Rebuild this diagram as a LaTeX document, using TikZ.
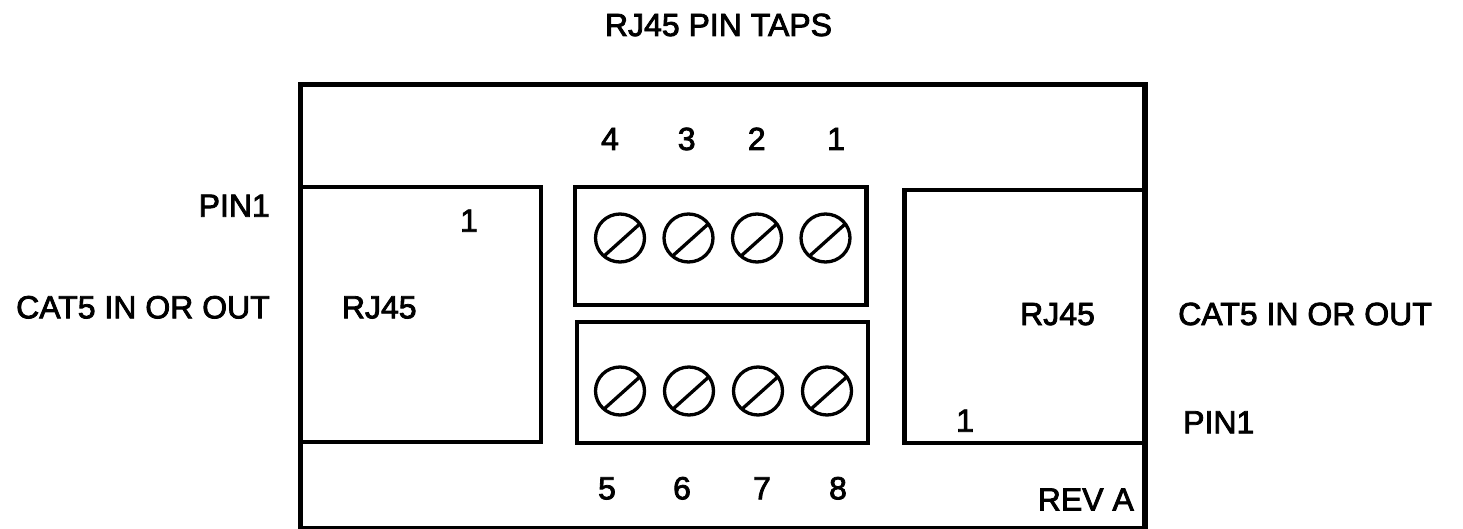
\documentclass[tikz,border=0pt]{standalone}
\usepackage{fontspec}
\setmainfont{Liberation Sans}
\newfontfamily\cadfont{Liberation Sans}[FakeBold=2.5]
\usetikzlibrary{calc}
\begin{document}
\begin{tikzpicture}[x=1pt,y=-1pt,
  lbl/.style={inner sep=0pt,font=\cadfont\fontsize{32}{33}\selectfont},
  outerline/.style={line width=5.2pt},
  innerline/.style={line width=4.2pt},
  screwline/.style={line width=3.3pt}]
\useasboundingbox (0,0) rectangle (1463,529);
% outer housing
\draw[outerline] (300.8,84.8) rectangle (1145,528.5);
% left RJ45 jack
\draw[innerline] (300.8,186.7) -- (541,186.7) -- (541,441.7) -- (300.8,441.7);
% right RJ45 jack
\draw[innerline] (1145,190) -- (904.5,190) -- (904.5,443.3) -- (1145,443.3);
% terminal blocks
\draw[innerline] (575.3,187) rectangle (866.5,305);
\draw[innerline] (577,322.3) rectangle (868,443.3);
% screws
\foreach \n/\x/\y in {s4/620/238,s3/688.5/238,s2/757/238,s1/825.5/238,
                      s5/620/391,s6/689/391,s7/758/391,s8/827/391}{
  \coordinate (\n) at (\x,\y);
  \draw[screwline] (\n) ellipse [x radius=24.5pt, y radius=24pt];
  \draw[screwline] ($(\n)+(229:24.5pt and 24pt)$) -- ($(\n)+(36:24.5pt and 24pt)$);
}
% texts
\node[lbl,anchor=base] (title) at (718.5,36) {RJ45 PIN TAPS};
\node[lbl,anchor=base] (t4) at (610,150) {4};
\node[lbl,anchor=base] (t3) at (686.7,150) {3};
\node[lbl,anchor=base] (t2) at (756.7,150) {2};
\node[lbl,anchor=base] (t1) at (836,150) {1};
\node[lbl,anchor=base] (b5) at (607,499.3) {5};
\node[lbl,anchor=base] (b6) at (682,499.3) {6};
\node[lbl,anchor=base] (b7) at (762,499.3) {7};
\node[lbl,anchor=base] (b8) at (838,499.3) {8};
\node[lbl,anchor=base east] (lpin) at (270,216.7) {PIN1};
\node[lbl,anchor=base east] (lcat) at (270,318.3) {CAT5 IN OR OUT};
\node[lbl,anchor=base west] (lrj) at (341.7,318.3) {RJ45};
\node[lbl,anchor=base] (lone) at (469,231.7) {1};
\node[lbl,anchor=base west] (rrj) at (1020,325) {RJ45};
\node[lbl,anchor=base west] (rcat) at (1178,325) {CAT5 IN OR OUT};
\node[lbl,anchor=base] (rone) at (965,431.7) {1};
\node[lbl,anchor=base west] (rpin) at (1183,433.3) {PIN1};
\node[lbl,anchor=base east] (rev) at (1134,510.5) {REV A};
\end{tikzpicture}
\end{document}
